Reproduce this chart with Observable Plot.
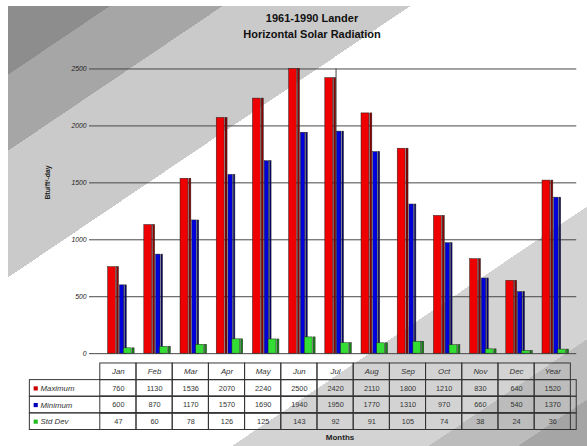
<!DOCTYPE html>
<html>
<head>
<meta charset="utf-8">
<script src="https://cdn.jsdelivr.net/npm/d3@7"></script>
<script src="https://cdn.jsdelivr.net/npm/@observablehq/plot@0.6"></script>
<style>
  html, body { margin: 0; padding: 0; }
  body { width: 587px; height: 446px; overflow: hidden; position: relative; background: #fff; font-family: "Liberation Sans", Arial, sans-serif; }
  #bg { position: absolute; left: 8px; top: 6px; right: 0; bottom: 0;
    background: linear-gradient(146deg, #8d8d8d 0 57px, #a6a6a6 57px 120px, #cacaca 120px 225px, #ffffff 225px 490px, #d3d3d3 490px 600px, #bcbcbc 600px 650px, #a5a5a5 650px); }
  #title { position: absolute; left: 212px; width: 200px; top: 10px; text-align: center; font-weight: bold; font-size: 11px; line-height: 16px; color: #111; }
  #chart { position: absolute; left: 0; top: 0; }
  #table { position: absolute; left: 0; top: 362px; }
  #xlabel { position: absolute; left: 290px; width: 100px; top: 433px; text-align: center; font-weight: bold; font-size: 8px; color: #222; }
</style>
</head>
<body>
<div id="bg"></div>
<div id="title">1961-1990 Lander<br>Horizontal Solar Radiation</div>
<div id="chart"></div>
<div id="table"></div>
<div id="xlabel">Months</div>
<script>
const months = ["Jan","Feb","Mar","Apr","May","Jun","Jul","Aug","Sep","Oct","Nov","Dec","Year"];
const maximum = [760,1130,1536,2070,2240,2500,2420,2110,1800,1210,830,640,1520];
const minimum = [600,870,1170,1570,1690,1940,1950,1770,1310,970,660,540,1370];
const stdDev  = [47,60,78,126,125,143,92,91,105,74,38,24,36];
const seriesNames = ["Maximum","Minimum","Std Dev"];
const yTicks = [0,500,1000,1500,2000,2500];
const yTitle = "Btu/ft²-day";

const seriesValues = [maximum, minimum, stdDev];
const rows = months.flatMap((m, i) => seriesNames.map((s, k) => ({month: m, series: s, value: seriesValues[k][i]})));

const W = 600;
const xRange = [96, 589];
const bw = (xRange[1] - xRange[0]) / months.length;
const xScale = {type: "band", domain: months, range: xRange, padding: 0};

const faces = [
  {s: "Maximum", front: "#ee0000", side: "#8c0000", a: 8, b: 17, c: 20},
  {s: "Minimum", front: "#0000d8", side: "#000070", a: 20, b: 25.5, c: 28},
  {s: "Std Dev", front: "#33dd33", side: "#118811", a: 24, b: 33, c: 36}
];
const barMarks = faces.flatMap(f => {
  const d = rows.filter(r => r.series === f.s);
  return [
    Plot.barY(d, {x: "month", y: "value", fill: f.front, stroke: "#222", strokeWidth: 0.5, insetLeft: f.a, insetRight: bw - f.b}),
    Plot.barY(d, {x: "month", y: "value", fill: f.side, stroke: "#222", strokeWidth: 0.5, insetLeft: f.b, insetRight: bw - f.c})
  ];
});

const chart = Plot.plot({
  width: W, height: 362,
  marginLeft: 97, marginRight: W - xRange[1], marginTop: 70, marginBottom: 1,
  style: {background: "transparent", overflow: "visible", fontFamily: "Liberation Sans, Arial, sans-serif"},
  x: {...xScale, axis: null},
  y: {domain: [0, 2500], ticks: yTicks},
  marks: [
    Plot.gridY(yTicks, {stroke: "#444", strokeOpacity: 1, strokeWidth: 1}),
    Plot.axisY(yTicks, {tickSize: 6, tickPadding: 3, tickFormat: d => String(d), fontSize: 7, fontStyle: "italic", fill: "#222", stroke: "#444", label: null}),
    Plot.ruleX([0], {x: null, frameAnchor: "left", stroke: "#444"}),
    ...barMarks,
    Plot.text([yTitle], {frameAnchor: "left", dx: -49, dy: -12, rotate: -90, fontSize: 7, fontWeight: "bold", fill: "#222"})
  ]
});
document.getElementById("chart").appendChild(chart);

const headerKey = " ";
const tableRows = [headerKey, ...seriesNames];
const tableCells = months.flatMap((m, i) => [
  {month: m, row: headerKey, label: m, italic: true},
  ...seriesNames.map((s, k) => ({month: m, row: s, label: String(seriesValues[k][i]), italic: false}))
]);

const table = Plot.plot({
  width: W, height: 72,
  marginLeft: 30, marginRight: W - xRange[1], marginTop: 0, marginBottom: 2,
  style: {background: "transparent", fontFamily: "Liberation Sans, Arial, sans-serif"},
  x: {...xScale, axis: null},
  y: {type: "band", domain: tableRows, padding: 0, axis: null},
  color: {domain: seriesNames, range: ["#cc0000", "#0000bb", "#22bb22"]},
  marks: [
    Plot.cell(seriesNames, {y: d => d, fill: "none", stroke: "#333", strokeWidth: 1, inset: 0}),
    Plot.cell(tableCells, {x: "month", y: "row", fill: "none", stroke: "#333", strokeWidth: 1, inset: 0}),
    Plot.text(tableCells.filter(d => d.italic), {x: "month", y: "row", text: "label", fontSize: 8, fontStyle: "italic", fill: "#333"}),
    Plot.text(tableCells.filter(d => !d.italic), {x: "month", y: "row", text: "label", fontSize: 7.5, fill: "#333"}),
    Plot.dot(seriesNames, {y: d => d, frameAnchor: "left", dx: 6, symbol: "square", r: 2.4, fill: d => d}),
    Plot.text(seriesNames, {y: d => d, text: d => d, frameAnchor: "left", textAnchor: "start", dx: 11, fontSize: 8, fontStyle: "italic", fill: "#333"})
  ]
});
document.getElementById("table").appendChild(table);
</script>
</body>
</html>
